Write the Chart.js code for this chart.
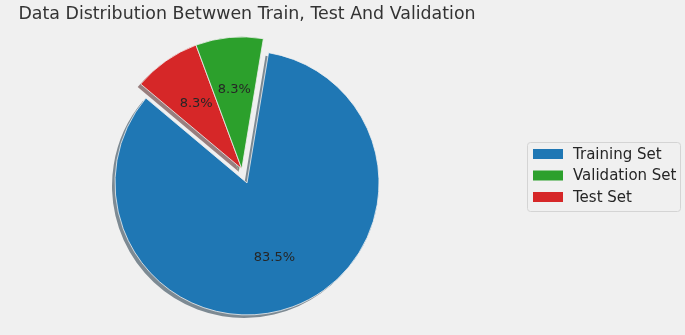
<!DOCTYPE html>
<html>
<head>
<meta charset="utf-8">
<script src="https://cdn.jsdelivr.net/npm/chart.js@4.4.1/dist/chart.umd.min.js"></script>
<style>
  html, body { margin: 0; padding: 0; background: #f0f0f0; }
  #wrap { width: 685px; height: 335px; }
</style>
</head>
<body>
<div id="wrap"><canvas id="pieChart" width="685" height="335"></canvas></div>
<script>
// --- data ---
const categories = ['Training Set', 'Validation Set', 'Test Set'];
const sampleCounts = [334, 33, 33];
const pulledOut = [false, true, true];
const titleText = 'Data Distribution Betwwen Train, Test And Validation';

const sliceColors = ['#1f77b4', '#2ca02c', '#d62728'];
const startAngle = 140;   // matplotlib style start, counter-clockwise
const explodeBy = 15;     // px, pulled-out slices move together

const total = sampleCounts.reduce((a, b) => a + b, 0);
const pctText = v => (Math.round(v * 1000 / total) / 10).toFixed(1) + '%';

// chart.js draws clockwise, matplotlib counter-clockwise -> reverse the tail
const order = [0, 2, 1];
const firstShare = sampleCounts[0] / total;
const rotation = 90 - startAngle - 360 * firstShare;

function shadowOf(hex) {
  const n = parseInt(hex.slice(1), 16);
  const c = [(n >> 16) & 255, (n >> 8) & 255, n & 255].map(v => Math.round(0.15 * v + 120));
  return `rgb(${c[0]},${c[1]},${c[2]})`;
}

// shift shared by all pulled-out arcs, along the middle of the group
function groupShift(chart) {
  const meta = chart.getDatasetMeta(0);
  let lo = Infinity, hi = -Infinity;
  meta.data.forEach((arc, i) => {
    if (pulledOut[order[i]]) {
      lo = Math.min(lo, arc.startAngle);
      hi = Math.max(hi, arc.endAngle);
    }
  });
  const mid = (lo + hi) / 2;
  return { dx: Math.cos(mid) * explodeBy, dy: Math.sin(mid) * explodeBy };
}

const explodePlugin = {
  id: 'explodeGroup',
  beforeDatasetDraw(chart, args) {
    const ctx = chart.ctx;
    const s = groupShift(chart);
    // shadows first, all below the wedges
    args.meta.data.forEach((arc, i) => {
      const out = pulledOut[order[i]];
      const cx = arc.x + (out ? s.dx : 0) - 3;
      const cy = arc.y + (out ? s.dy : 0) + 3;
      ctx.save();
      ctx.fillStyle = shadowOf(sliceColors[order[i]]);
      ctx.beginPath();
      ctx.moveTo(cx, cy);
      ctx.arc(cx, cy, arc.outerRadius, arc.startAngle, arc.endAngle);
      ctx.closePath();
      ctx.fill();
      ctx.restore();
    });
    args.meta.data.forEach((arc, i) => {
      ctx.save();
      if (pulledOut[order[i]]) ctx.translate(s.dx, s.dy);
      arc.draw(ctx, chart.chartArea);
      ctx.restore();
    });
    return false;
  }
};

const pctPlugin = {
  id: 'pctLabels',
  afterDatasetsDraw(chart) {
    const ctx = chart.ctx;
    const s = groupShift(chart);
    const values = chart.data.datasets[0].data;
    chart.getDatasetMeta(0).data.forEach((arc, i) => {
      const mid = (arc.startAngle + arc.endAngle) / 2;
      const r = arc.outerRadius * 0.6;
      const out = pulledOut[order[i]];
      const x = arc.x + (out ? s.dx : 0) + Math.cos(mid) * r;
      const y = arc.y + (out ? s.dy : 0) + Math.sin(mid) * r;
      ctx.save();
      ctx.font = '13px "DejaVu Sans"';
      ctx.fillStyle = '#262626';
      ctx.textAlign = 'center';
      ctx.textBaseline = 'middle';
      ctx.fillText(pctText(values[i]), x, y);
      ctx.restore();
    });
  }
};

const boxLegend = {
  id: 'boxLegend',
  afterDraw(chart) {
    const ctx = chart.ctx;
    ctx.save();
    ctx.beginPath();
    ctx.roundRect(527.5, 142.5, 153, 69, 3);
    ctx.fillStyle = '#f0f0f0';
    ctx.fill();
    ctx.strokeStyle = '#d4d4d4';
    ctx.lineWidth = 1;
    ctx.stroke();
    categories.forEach((name, i) => {
      const yc = 154 + i * 21.5;
      ctx.fillStyle = sliceColors[i];
      ctx.fillRect(533, yc - 5, 30, 10);
      ctx.fillStyle = '#262626';
      ctx.font = '15px "DejaVu Sans"';
      ctx.textBaseline = 'middle';
      ctx.fillText(name, 573, yc + 1);
    });
    ctx.restore();
  }
};

const ctx = document.getElementById('pieChart').getContext('2d');
new Chart(ctx, {
  type: 'pie',
  data: {
    labels: order.map(i => categories[i]),
    datasets: [{
      data: order.map(i => sampleCounts[i]),
      backgroundColor: order.map(i => sliceColors[i]),
      borderColor: '#f0f0f0',
      borderWidth: 0.8,
      hoverOffset: 0
    }]
  },
  options: {
    responsive: false,
    animation: false,
    devicePixelRatio: 1,
    rotation: rotation,
    radius: 132,
    layout: { padding: { left: 0, right: 191, top: 0, bottom: 0 } },
    plugins: {
      legend: { display: false },
      tooltip: { enabled: false },
      title: {
        display: true,
        text: titleText,
        fullSize: false,
        color: '#333333',
        font: { family: 'DejaVu Sans', size: 17.4, weight: 'normal' },
        padding: { top: 4, bottom: 6 }
      }
    }
  },
  plugins: [explodePlugin, pctPlugin, boxLegend]
});
</script>
</body>
</html>
